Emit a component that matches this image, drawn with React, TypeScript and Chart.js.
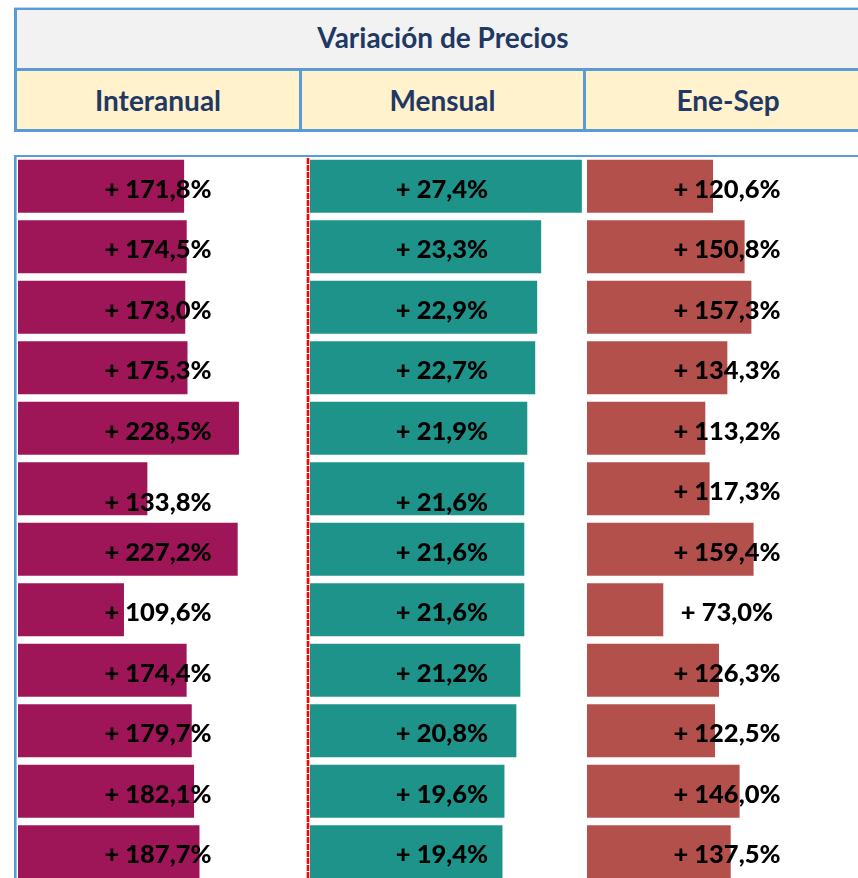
import React, { useEffect, useRef } from 'react';
import { Chart, registerables } from 'chart.js';

Chart.register(...registerables);

// ---------- data ----------
const mainTitle = 'Variación de Precios';
const columnTitles = ['Interanual', 'Mensual', 'Ene-Sep'];
const categories = ['1', '2', '3', '4', '5', '6', '7', '8', '9', '10', '11', '12'];
const interanual = [171.8, 174.5, 173.0, 175.3, 228.5, 133.8, 227.2, 109.6, 174.4, 179.7, 182.1, 187.7];
const mensual = [27.4, 23.3, 22.9, 22.7, 21.9, 21.6, 21.6, 21.6, 21.2, 20.8, 19.6, 19.4];
const eneSep = [120.6, 150.8, 157.3, 134.3, 113.2, 117.3, 159.4, 73.0, 126.3, 122.5, 146.0, 137.5];
const axisMax = [302, 27.92, 259.3];

// ---------- style ----------
const FONT = 'Lato, "Open Sans", sans-serif';
const BLUE = '#5B9BD5';
const NAVY = '#1F3864';
const BAR_COLORS = ['#9E1558', '#1E938A', '#B4504C'];
const COL_WEIGHTS = [292, 277, 271];
const COL_CENTERS = [158, 442, 727];
const LABEL_SIZE = 25.5;
const LABEL_WEIGHT = 900;
const CANVAS_TOP = 150;
const CANVAS_H = 732;

const fmt = (v: number) => '+ ' + v.toFixed(1).replace('.', ',') + '%';

const framePlugin = {
  id: 'frame',
  beforeDatasetsDraw(chart: any) {
    const ctx = chart.ctx;
    ctx.save();
    ctx.fillStyle = BLUE;
    ctx.fillRect(14, 5, 858, 2);
    ctx.fillRect(14, 5, 2.6, CANVAS_H);
    ctx.strokeStyle = '#FF0000';
    ctx.lineWidth = 2.6;
    ctx.setLineDash([6, 1]);
    ctx.beginPath();
    ctx.moveTo(308, 8);
    ctx.lineTo(308, CANVAS_H);
    ctx.stroke();
    ctx.restore();
  },
};

const labelPlugin = {
  id: 'valueLabels',
  afterDatasetsDraw(chart: any) {
    const ctx = chart.ctx;
    ctx.save();
    ctx.font = `${LABEL_WEIGHT} ${LABEL_SIZE}px ${FONT}`;
    ctx.fillStyle = '#000000';
    ctx.textAlign = 'center';
    ctx.textBaseline = 'alphabetic';
    chart.data.datasets.forEach((ds: any, di: number) => {
      const meta = chart.getDatasetMeta(di);
      meta.data.forEach((el: any, j: number) => {
        let dy = 11.5;
        if (j === 5 && di < 2) dy += 11;
        ctx.fillText(fmt(ds.data[j]), COL_CENTERS[di], el.y + dy);
      });
    });
    ctx.restore();
  },
};

const xAxis = (i: number) => ({
  type: 'linear',
  axis: 'x',
  position: 'bottom',
  stack: 'cols',
  stackWeight: COL_WEIGHTS[i],
  min: 0,
  max: axisMax[i],
  display: true,
  grid: { display: false, drawTicks: false },
  border: { display: false },
  ticks: { display: false },
  title: { display: false },
});

function BarsChart() {
  const ref = useRef<HTMLCanvasElement | null>(null);
  useEffect(() => {
    if (!ref.current) return;
    const series = [interanual, mensual, eneSep];
    const chart = new Chart(ref.current, {
      type: 'bar',
      data: {
        labels: categories,
        datasets: series.map((d, i) => ({
          label: columnTitles[i],
          data: d,
          xAxisID: 'x' + (i + 1),
          yAxisID: 'y',
          backgroundColor: BAR_COLORS[i],
          borderWidth: 0,
          grouped: false,
          barPercentage: 0.876,
          categoryPercentage: 1,
        })),
      },
      options: {
        indexAxis: 'y',
        animation: false,
        responsive: false,
        maintainAspectRatio: false,
        devicePixelRatio: 1,
        events: [],
        layout: { padding: { top: 6, left: 18, right: 0, bottom: 0 } },
        plugins: {
          legend: { display: false },
          tooltip: { enabled: false },
          title: { display: false },
        },
        scales: {
          y: { type: 'category', axis: 'y', display: false, offset: true },
          x1: xAxis(0),
          x2: xAxis(1),
          x3: xAxis(2),
        } as any,
      } as any,
      plugins: [framePlugin, labelPlugin],
    });
    return () => chart.destroy();
  }, []);
  return (
    <canvas
      ref={ref}
      width={858}
      height={CANVAS_H}
      style={{ position: 'absolute', left: 0, top: CANVAS_TOP, width: 858, height: CANVAS_H }}
    />
  );
}

export default function App() {
  const abs = (l: number, t: number, w: number, h: number, bg: string): React.CSSProperties => ({
    position: 'absolute', left: l, top: t, width: w, height: h, background: bg,
  });
  const textBox = (l: number, t: number, w: number, h: number): React.CSSProperties => ({
    position: 'absolute', left: l, top: t, width: w, height: h,
    display: 'flex', alignItems: 'center', justifyContent: 'center',
    color: NAVY, fontWeight: 700, fontSize: 28, fontFamily: FONT, whiteSpace: 'nowrap',
  });
  const cells = [[17, 282], [302, 281], [586, 284]];
  return (
    <div style={{ position: 'absolute', left: 0, top: 0, width: 858, height: 878, overflow: 'hidden', background: '#FFFFFF' }}>
      <div style={abs(16, 10, 900, 58, '#F2F2F2')} />
      <div style={abs(16, 71, 900, 58, '#FFF2CC')} />
      <div style={abs(14, 7, 900, 1, '#BDD7EE')} />
      <div style={abs(14, 8, 900, 2, BLUE)} />
      <div style={abs(14, 68, 900, 3, BLUE)} />
      <div style={abs(14, 129, 900, 3, BLUE)} />
      <div style={abs(14, 8, 3, 124, BLUE)} />
      <div style={abs(299, 68, 3, 64, BLUE)} />
      <div style={abs(583, 68, 3, 64, BLUE)} />
      <div style={textBox(16, 8, 854, 58)}>{mainTitle}</div>
      {columnTitles.map((t, i) => (
        <div key={t} style={textBox(cells[i][0], 71, cells[i][1], 58)}>{t}</div>
      ))}
      <BarsChart />
    </div>
  );
}
